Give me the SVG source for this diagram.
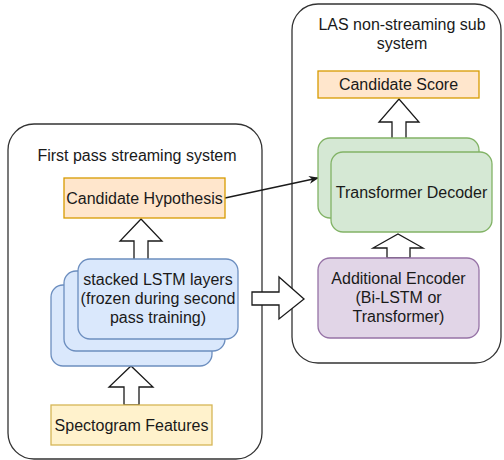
<svg xmlns="http://www.w3.org/2000/svg" width="504" height="460" viewBox="0 0 504 460">
<defs>
<style>
text{font-family:Helvetica,"Liberation Sans",Arial,sans-serif;font-size:16px;fill:#1a1a1a;text-anchor:middle}
.cont{fill:#fff;stroke:#333;stroke-width:1.3}
.orange{fill:#ffe6cc;stroke:#d79b00;stroke-width:1.3}
.yellow{fill:#fff2cc;stroke:#d6b656;stroke-width:1.3}
.blue{fill:#dae8fc;stroke:#6c8ebf;stroke-width:1.3}
.green{fill:#d5e8d4;stroke:#82b366;stroke-width:1.3}
.purple{fill:#e1d5e7;stroke:#9673a6;stroke-width:1.3}
.barrow{fill:#fff;stroke:#1a1a1a;stroke-width:1.3;stroke-linejoin:miter}
.line{fill:none;stroke:#1a1a1a;stroke-width:1.3}
</style>
<marker id="ah" viewBox="0 0 10 10" refX="9" refY="5" markerWidth="10" markerHeight="10" markerUnits="userSpaceOnUse" orient="auto">
<path d="M0,1 L10,5 L0,9 L3,5 Z" fill="#1a1a1a"/>
</marker>
</defs>
<g id="first-pass-system">
<rect class="cont" x="8" y="124" width="254" height="335" rx="26"/>
<text x="137" y="161">First pass streaming system</text>
</g>
<g id="las-system">
<rect class="cont" x="292" y="4" width="209" height="359" rx="26"/>
<text x="402" y="30">LAS non-streaming sub</text>
<text x="402" y="49">system</text>
</g>
<g id="connectors">
<path class="barrow" d="M134,262 L134,241 L120,241 L141,219 L162,241 L148,241 L148,262 Z"/>
<path class="barrow" d="M124,405 L124,387 L109,387 L131,366 L153,387 L139,387 L139,405 Z"/>
<path class="barrow" d="M252,292 L279,292 L279,277 L304,299 L279,319 L279,305 L252,305 Z"/>
<path class="barrow" d="M392,140 L392,122 L379,122 L399,99 L419,122 L406,122 L406,140 Z"/>
<path class="barrow" d="M387,258 L387,248 L373,248 L398,234 L423,248 L410,248 L410,258 Z"/>
<path class="line" d="M225,198 L318,178" marker-end="url(#ah)"/>
</g>
<g id="candidate-hypothesis">
<rect class="orange" x="64" y="178" width="161" height="40"/>
<text x="144.5" y="203.5">Candidate Hypothesis</text>
</g>
<g id="lstm-layers">
<rect class="blue" x="51" y="285" width="161" height="81" rx="12"/>
<rect class="blue" x="64" y="271" width="161" height="80" rx="12"/>
<rect class="blue" x="78" y="259" width="160" height="80" rx="12"/>
<text x="158" y="285">stacked LSTM layers</text>
<text x="158" y="304">(frozen during second</text>
<text x="158" y="323">pass training)</text>
</g>
<g id="spectogram-features">
<rect class="yellow" x="51" y="405" width="161" height="40"/>
<text x="131.5" y="430.5">Spectogram Features</text>
</g>
<g id="candidate-score">
<rect class="orange" x="318" y="71" width="161" height="27"/>
<text x="398.5" y="90">Candidate Score</text>
</g>
<g id="transformer-decoder">
<rect class="green" x="318" y="138" width="161" height="80" rx="12"/>
<rect class="green" x="331" y="152" width="161" height="80" rx="12"/>
<text x="411.5" y="197.5">Transformer Decoder</text>
</g>
<g id="additional-encoder">
<rect class="purple" x="318" y="258" width="161" height="80" rx="12"/>
<text x="398.5" y="284">Additional Encoder</text>
<text x="398.5" y="303">(Bi-LSTM or</text>
<text x="398.5" y="322">Transformer)</text>
</g>
</svg>
